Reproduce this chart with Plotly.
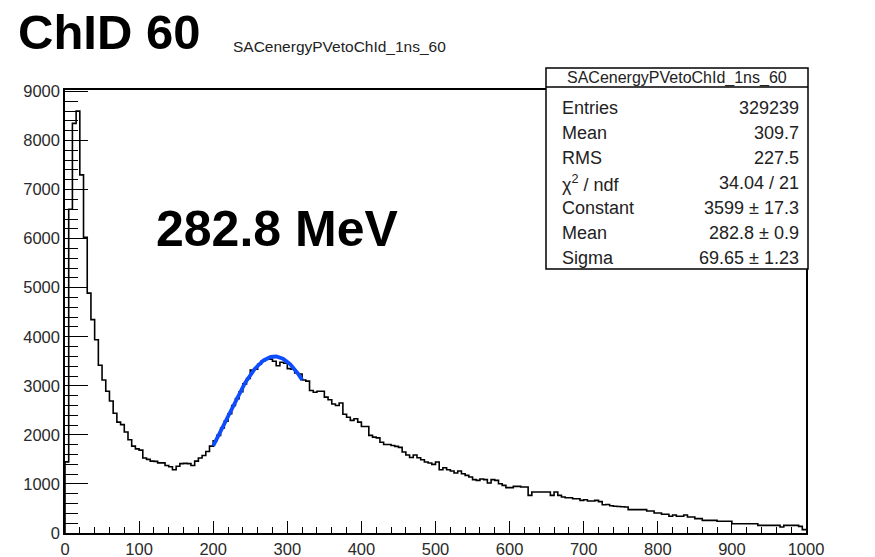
import numpy as np
import plotly.graph_objects as go

# Histogram: SACenergyPVetoChId_1ns_60, 200 bins of 5 MeV from 0 to 1000
bin_low = 0.0
bin_width = 5.0
counts = [
    1450, 6600, 8350, 8600, 7300, 6030, 4890, 4350, 3940, 3420,
    3120, 2890, 2690, 2440, 2260, 2210, 2060, 1900, 1770, 1715,
    1690, 1530, 1500, 1465, 1460, 1430, 1430, 1375, 1350, 1290,
    1360, 1415, 1420, 1415, 1375, 1465, 1530, 1580, 1660, 1770,
    1880, 1990, 2140, 2280, 2430, 2600, 2740, 2880, 3040, 3150,
    3320, 3340, 3440, 3510, 3550, 3545, 3500, 3410, 3480, 3460,
    3350, 3340, 3260, 3240, 3120, 3095, 2905, 2870, 2890, 2890,
    2770, 2715, 2630, 2600, 2650, 2420, 2360, 2295, 2330, 2260,
    2170, 2170, 1990, 1955, 1940, 1850, 1805, 1805, 1785, 1765,
    1745, 1650, 1590, 1540, 1590, 1534, 1494, 1447, 1426, 1399,
    1447, 1290, 1331, 1290, 1263, 1222, 1263, 1209, 1175, 1141,
    1087, 1073, 1100, 1087, 1019, 1087, 1073, 1005, 971, 924,
    924, 951, 951, 937, 937, 767, 835, 835, 835, 835,
    835, 767, 835, 767, 733, 720, 720, 699, 699, 665,
    679, 652, 652, 665, 640, 575, 580, 555, 545, 540,
    535, 530, 476, 476, 476, 476, 476, 449, 449, 408,
    408, 381, 381, 340, 367, 340, 340, 367, 326, 326,
    292, 292, 258, 258, 258, 258, 238, 238, 238, 238,
    190, 190, 190, 190, 190, 190, 190, 156, 156, 156,
    156, 156, 156, 122, 156, 156, 156, 156, 136, 68,
]

# Gaussian fit result (range 200-320 MeV)
fit_constant = 3599.0
fit_mean = 282.8
fit_sigma = 69.65
fit_range = (200.0, 320.0)

# Statistics box entries
stats_title = "SACenergyPVetoChId_1ns_60"
stats_labels = ["Entries", "Mean", "RMS", "χ<sup>2</sup> / ndf",
                "Constant", "Mean", "Sigma"]
stats_values = ["329239", "309.7", "227.5", "34.04 / 21",
                "3599 ± 17.3", "282.8 ± 0.9", "69.65 ± 1.23"]

hist_title = "SACenergyPVetoChId_1ns_60"
channel_label = "ChID 60"
peak_label = "282.8 MeV"

# ---- geometry of the canvas (pixels) ----
W, H = 875, 557
ML, MR, MT, MB = 65, 69, 90, 24
PW, PH = W - ML - MR, H - MT - MB
FONT = "Liberation Sans, Arial, Helvetica, sans-serif"


def px(xp):
    return (xp - ML) / PW


def py(yp):
    return (H - MB - yp) / PH


counts = np.asarray(counts, dtype=float)
edges = bin_low + bin_width * np.arange(len(counts) + 1)
step_x = np.concatenate([[edges[0]], edges])
step_y = np.concatenate([[0.0], counts, [counts[-1]]])

fx = np.linspace(fit_range[0], fit_range[1], 100)
fy = fit_constant * np.exp(-0.5 * ((fx - fit_mean) / fit_sigma) ** 2)

fig = go.Figure()
fig.add_trace(go.Scatter(
    x=step_x, y=step_y, mode="lines", line_shape="hv",
    line=dict(color="black", width=1.6), hoverinfo="skip",
))
fig.add_trace(go.Scatter(
    x=fx, y=fy, mode="lines",
    line=dict(color="#0d4dff", width=3.8), hoverinfo="skip",
))

axis_common = dict(
    showline=True, linecolor="black", linewidth=1.5, mirror=True,
    ticks="inside", tickcolor="black", tickwidth=1.3,
    showgrid=False, zeroline=False, automargin=False,
)

fig.update_xaxes(
    range=[0, 1000], dtick=100, tick0=0, ticklen=12,
    tickfont=dict(family=FONT, size=16.5, color="#2a2a2a"),
    minor=dict(dtick=20, ticklen=6, ticks="inside", tickcolor="black",
               tickwidth=1.3, showgrid=False),
    **axis_common,
)
fig.update_yaxes(
    range=[0, 9030], dtick=1000, tick0=0, ticklen=23,
    tickfont=dict(family=FONT, size=16.5, color="#2a2a2a"),
    minor=dict(dtick=200, ticklen=13, ticks="inside", tickcolor="black",
               tickwidth=1.3, showgrid=False),
    **axis_common,
)

annotations = []
shapes = []

# Big labels
annotations.append(dict(
    text=f"<b>{channel_label}</b>", x=px(16), y=py(32), xref="paper", yref="paper",
    xanchor="left", yanchor="middle", showarrow=False,
    font=dict(family=FONT, size=49, color="black"),
))
annotations.append(dict(
    text=f"<b>{peak_label}</b>", x=px(154), y=py(229), xref="paper", yref="paper",
    xanchor="left", yanchor="middle", showarrow=False,
    font=dict(family=FONT, size=50, color="black"),
))

# Histogram title
annotations.append(dict(
    text=hist_title, x=px(231), y=py(47), xref="paper", yref="paper",
    xanchor="left", yanchor="middle", showarrow=False,
    font=dict(family=FONT, size=15.5, color="#222"),
))

# Statistics box
box_l, box_r, box_t, box_b = 546, 808, 68, 269
sep_y = 87
shapes.append(dict(type="rect", xref="paper", yref="paper",
                   x0=px(box_l), x1=px(box_r), y0=py(box_b), y1=py(box_t),
                   line=dict(color="black", width=1.5), fillcolor="white", layer="above"))
shapes.append(dict(type="line", xref="paper", yref="paper",
                   x0=px(box_l), x1=px(box_r), y0=py(sep_y), y1=py(sep_y),
                   line=dict(color="black", width=1.5), layer="above"))

annotations.append(dict(
    text=stats_title, x=px((box_l + box_r) / 2), y=py(78), xref="paper", yref="paper",
    xanchor="center", yanchor="middle", showarrow=False,
    font=dict(family=FONT, size=16, color="#222"),
))
row_font = dict(family=FONT, size=18, color="#222")
row_y0, row_dy = 108, 25
for i, (lab, val) in enumerate(zip(stats_labels, stats_values)):
    yy = py(row_y0 + i * row_dy)
    annotations.append(dict(
        text=lab, x=px(560), y=yy, xref="paper", yref="paper",
        xanchor="left", yanchor="middle", showarrow=False, font=row_font,
    ))
    annotations.append(dict(
        text=val, x=px(801), y=yy, xref="paper", yref="paper",
        xanchor="right", yanchor="middle", showarrow=False, font=row_font,
    ))

fig.update_layout(
    width=W, height=H, autosize=False,
    margin=dict(l=ML, r=MR, t=MT, b=MB, pad=0, autoexpand=False),
    paper_bgcolor="white", plot_bgcolor="white",
    showlegend=False,
    annotations=annotations, shapes=shapes,
)

fig.write_html("out.html")
